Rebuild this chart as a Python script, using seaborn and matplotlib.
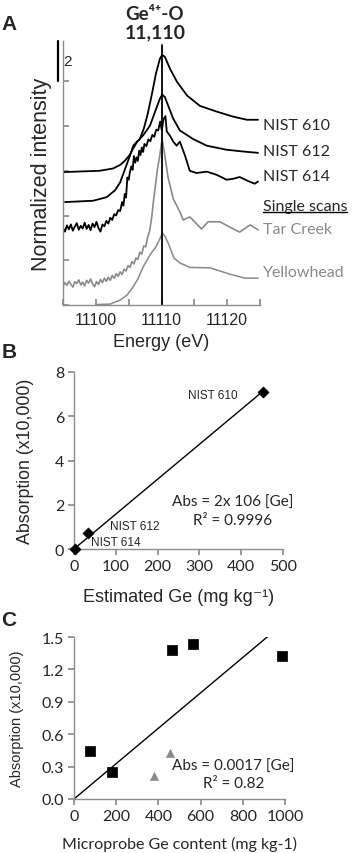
import numpy as np
import pandas as pd
import matplotlib
matplotlib.use('Agg')
import matplotlib.pyplot as plt
import seaborn as sns

# ---------------- A: Ge K-edge spectra (stacked, offset units) ----------------
nist610_e = [11095.0, 11100.6, 11102.6, 11103.7, 11104.4, 11105.2, 11105.65, 11106.3, 11106.7,
             11107.3, 11107.9, 11108.55, 11109.15, 11109.75, 11110.1, 11110.5, 11111.3, 11112.35,
             11113.9, 11115.85, 11118.45, 11120.9, 11123.0, 11124.7]
nist610_i = [2.97, 3.00, 3.05, 3.13, 3.22, 3.36, 3.49, 3.65, 3.71, 3.94, 4.27, 4.72, 5.17, 5.50,
             5.59, 5.55, 5.28, 4.99, 4.68, 4.45, 4.32, 4.21, 4.14, 4.14]

nist612_e = [11095.3, 11099.6, 11101.65, 11102.9, 11103.7, 11104.45, 11105.2, 11105.7, 11106.2,
             11107.2, 11108.25, 11109.0, 11109.75, 11110.1, 11110.5, 11111.0, 11111.8, 11112.8,
             11114.8, 11116.9, 11119.9, 11122.45, 11124.7]
nist612_i = [2.30, 2.33, 2.41, 2.56, 2.74, 3.04, 3.34, 3.56, 3.64, 3.79, 4.01, 4.31, 4.61, 4.70,
             4.65, 4.46, 4.16, 3.90, 3.71, 3.56, 3.47, 3.43, 3.40]

nist614_e = [11095.0, 11095.3, 11095.6, 11095.9, 11096.2, 11096.5, 11096.8, 11097.1, 11097.4,
             11097.7, 11098.0, 11098.3, 11098.6, 11098.9, 11099.2, 11099.5, 11099.8, 11100.1,
             11100.4, 11100.7, 11101.0, 11101.3, 11101.6, 11101.9, 11102.2, 11102.5, 11102.8,
             11103.1, 11103.4, 11103.7, 11104.0, 11104.2, 11104.4, 11104.6, 11104.8, 11105.0,
             11105.2, 11105.4, 11105.6, 11105.8, 11106.0, 11106.2, 11106.4, 11106.6, 11106.8,
             11107.0, 11107.2, 11107.4, 11107.7, 11108.0, 11108.3, 11108.6, 11108.9, 11109.2,
             11109.5, 11109.8, 11110.05, 11110.3, 11110.6, 11110.8, 11111.3, 11111.8, 11112.3,
             11112.8, 11113.6, 11114.3, 11115.3, 11116.9, 11118.4, 11119.9, 11120.9, 11121.9,
             11123.2, 11124.2, 11124.7]
nist614_i = [1.72, 1.64, 1.78, 1.69, 1.80, 1.66, 1.75, 1.83, 1.68, 1.77, 1.71, 1.84, 1.70, 1.79,
             1.67, 1.82, 1.74, 1.86, 1.72, 1.64, 1.80, 1.76, 1.88, 1.82, 1.95, 1.90, 2.03, 2.00,
             2.12, 2.10, 2.30, 2.22, 2.48, 2.40, 2.85, 2.80, 2.98, 3.10, 3.02, 3.33, 3.18, 3.30,
             3.22, 3.45, 3.35, 3.52, 3.42, 3.60, 3.55, 3.70, 3.66, 3.80, 3.76, 3.92, 3.90, 4.10,
             3.90, 4.15, 4.22, 3.88, 3.78, 3.65, 3.56, 3.65, 3.33, 3.00, 2.95, 2.98, 2.91, 2.80,
             2.82, 2.86, 2.77, 2.71, 2.76]

tar_e = [11095.0, 11095.3, 11095.6, 11095.9, 11096.2, 11096.5, 11096.8, 11097.1, 11097.4,
         11097.7, 11098.0, 11098.3, 11098.6, 11098.9, 11099.2, 11099.5, 11099.8, 11100.1,
         11100.4, 11100.7, 11101.0, 11101.3, 11101.6, 11101.9, 11102.2, 11102.5, 11102.8,
         11103.1, 11103.4, 11103.7, 11104.0, 11104.3, 11104.6, 11104.9, 11105.2, 11105.5,
         11105.8, 11106.1, 11106.4, 11106.7, 11107.0, 11107.3, 11107.6, 11107.9, 11108.2,
         11108.5, 11108.8, 11109.1, 11109.4, 11109.7, 11110.0, 11110.15, 11110.5, 11111.0,
         11111.8, 11112.8, 11113.3, 11114.3, 11116.1, 11117.1, 11118.9, 11120.4, 11121.9,
         11123.5, 11124.7]
tar_i = [0.42, 0.50, 0.44, 0.53, 0.46, 0.40, 0.52, 0.48, 0.56, 0.45, 0.51, 0.43, 0.55, 0.49,
         0.58, 0.47, 0.41, 0.52, 0.46, 0.57, 0.50, 0.60, 0.53, 0.62, 0.55, 0.66, 0.60, 0.70,
         0.64, 0.74, 0.68, 0.80, 0.76, 0.88, 0.84, 0.97, 0.92, 1.05, 1.02, 1.18, 1.14, 1.32,
         1.30, 1.52, 1.66, 1.95, 2.35, 2.70, 3.05, 3.30, 3.62, 3.65, 3.35, 2.85, 2.37, 2.08,
         1.90, 1.97, 1.70, 1.86, 1.86, 1.74, 1.63, 1.79, 1.68]

yellow_e = [11100.0, 11102.15, 11103.7, 11104.75, 11105.65, 11106.4, 11107.2, 11108.25, 11109.15,
            11109.75, 11110.15, 11110.5, 11111.0, 11111.9, 11112.8, 11114.35, 11117.4, 11120.4,
            11122.7, 11124.7]
yellow_i = [0.01, 0.02, 0.11, 0.22, 0.40, 0.58, 0.85, 1.12, 1.30, 1.48, 1.61, 1.54, 1.39, 1.05,
            0.94, 0.84, 0.83, 0.69, 0.60, 0.60]

spectra_names = ['NIST 610', 'NIST 612', 'NIST 614', 'Tar Creek', 'Yellowhead']
label_levels = [4.03, 3.45, 2.88, 1.70, 0.745]
peak_energy = 11110

# ---------------- B: calibration with NIST glasses ----------------
b_names = ['NIST 614', 'NIST 612', 'NIST 610']
b_ge = [2, 34, 451]
b_abs = [0.02, 0.71, 7.1]

# ---------------- C: samples vs microprobe ----------------
c_sq_ge = [76, 182, 466, 562, 987]
c_sq_abs = [0.44, 0.25, 1.38, 1.435, 1.32]
c_tri_ge = [378, 453]
c_tri_abs = [0.21, 0.425]
c_yticks = [0.0, 0.3, 0.6, 0.9, 1.2, 1.5]

sns.set_theme(style='white')
plt.rcParams['font.family'] = ['Liberation Sans', 'DejaVu Sans']
plt.rcParams['axes.edgecolor'] = '#8c8c8c'
plt.rcParams['axes.linewidth'] = 1.0

fig = plt.figure(figsize=(3.53, 8.54), dpi=100)
W, H = 353, 854

def px_axes(l, t, r, b):
    return fig.add_axes([l / W, 1 - b / H, (r - l) / W, (b - t) / H])

gray = '#8a8a8a'
calibri = ['Lato', 'DejaVu Sans']

# ---- panel A ----
axA = px_axes(63, 42, 260, 306)
spectra = [(nist610_e, nist610_i, 'black', 1.3), (nist612_e, nist612_i, 'black', 1.3),
           (nist614_e, nist614_i, 'black', 1.3), (tar_e, tar_i, gray, 1.2),
           (yellow_e, yellow_i, gray, 1.1)]
for e, i, c, lw in spectra:
    sns.lineplot(x=e, y=i, color=c, lw=lw, ax=axA, estimator=None, sort=False)
axA.plot([peak_energy, peak_energy], [0, 5.8], color='black', lw=1.3)
axA.set_xlim(11095, 11125)
axA.set_ylim(0, 5.9)
axA.set_xticks(range(11095, 11126, 5))
axA.set_xticklabels(['' if v % 10 else str(v) for v in range(11095, 11126, 5)])
axA.set_yticks(range(0, 6))
axA.set_yticklabels([])
axA.tick_params(direction='in', length=4, color='#8c8c8c', labelsize=11.5, pad=5,
                bottom=True, left=True)
for s in ['top', 'right']:
    axA.spines[s].set_visible(False)
axA.set_xlabel('Energy (eV)', fontsize=13, va='center')
axA.xaxis.set_label_coords(0.5, -0.137)
axA.set_ylabel('Normalized intensity', fontsize=15.5, va='center')
axA.yaxis.set_label_coords(-0.107, 0.5)

# scale bar
axA.plot([11094.3, 11094.3], [5.01, 5.91], color='black', lw=1.6, clip_on=False)
axA.text(11095.1, 5.45, '2', fontsize=11, va='center', ha='left')

for name, lev in zip(spectra_names[:3], label_levels[:3]):
    axA.text(11125.4, lev, name, fontsize=11.5, va='center', ha='left', family=calibri, clip_on=False)
for name, lev in zip(spectra_names[3:], label_levels[3:]):
    axA.text(11125.4, lev, name, fontsize=11.5, va='center', ha='left', family=calibri,
             color=gray, clip_on=False)
ss = axA.text(11125.4, 2.22, 'Single scans', fontsize=11.5, va='center', ha='left',
              family=calibri, clip_on=False)

fig.text(155 / W, 1 - 15 / H, 'Ge\u2074\u207a-O', fontsize=13.5, fontweight='bold',
         ha='center', va='center', family=['Lato', 'DejaVu Sans'])
fig.text(155 / W, 1 - 33 / H, '11,110', fontsize=14, fontweight='bold',
         ha='center', va='center', family=calibri)

# ---- panel B ----
axB = px_axes(74, 373, 283, 550)
dfB = pd.DataFrame({'conc': b_ge, 'absorb': b_abs, 'name': b_names})
slopeB = np.sum(dfB.conc * dfB.absorb) / np.sum(dfB.conc ** 2)
fitB = pd.DataFrame({'conc': [0, dfB.conc.max()]})
fitB['absorb'] = slopeB * fitB.conc
sns.lineplot(data=fitB, x='conc', y='absorb', color='black', lw=1.0, ax=axB)
sns.scatterplot(data=dfB, x='conc', y='absorb', marker='D', s=32, color='black',
                edgecolor='black', ax=axB, zorder=3, clip_on=False)
axB.set_xlim(0, 500)
axB.set_ylim(0, 8)
axB.set_xticks(range(0, 501, 100))
axB.set_yticks(range(0, 9, 2))
axB.tick_params(direction='out', length=4, color='#8c8c8c', labelsize=11.5, pad=3,
                bottom=True, left=True)
for lab in axB.get_xticklabels() + axB.get_yticklabels():
    lab.set_family(calibri)
for s in ['top', 'right']:
    axB.spines[s].set_visible(False)
axB.set_xlabel('Estimated Ge (mg kg\u207b\u00b9)', fontsize=13, va='center')
axB.xaxis.set_label_coords(0.5, -0.266)
axB.set_ylabel('Absorption (x10,000)', fontsize=12.8, va='center')
axB.yaxis.set_label_coords(-0.234, 0.5)
for name, x, y in zip(['NIST 610', 'NIST 612', 'NIST 614'], [332, 146, 99], [6.94, 1.03, 0.30]):
    axB.text(x, y, name, fontsize=8.5, ha='center', va='center')
axB.text(379, 2.14, 'Abs = 2x 106 [Ge]', fontsize=11, ha='center', va='center', family=calibri)
axB.text(379, 1.33, 'R\u00b2 = 0.9996', fontsize=11, ha='center', va='center', family=calibri)

# ---- panel C ----
axC = px_axes(74, 638, 285, 800)
dfC = pd.DataFrame({'conc': c_sq_ge + c_tri_ge, 'absorb': c_sq_abs + c_tri_abs,
                    'kind': ['sq'] * len(c_sq_ge) + ['tri'] * len(c_tri_ge)})
slopeC = np.sum(dfC.conc * dfC.absorb) / np.sum(dfC.conc ** 2)
fitC = pd.DataFrame({'conc': [0, 1000]})
fitC['absorb'] = slopeC * fitC.conc
sns.lineplot(data=fitC, x='conc', y='absorb', color='black', lw=1.0, ax=axC)
sns.scatterplot(data=dfC[dfC.kind == 'sq'], x='conc', y='absorb', marker='s', s=42, color='black',
                edgecolor='black', ax=axC, zorder=3, clip_on=False)
sns.scatterplot(data=dfC[dfC.kind == 'tri'], x='conc', y='absorb', marker='^', s=34, color=gray,
                edgecolor=gray, ax=axC, zorder=3)
axC.set_xlim(0, 1000)
axC.set_ylim(0, 1.5)
axC.set_xticks(range(0, 1001, 200))
axC.set_yticks(c_yticks)
axC.set_yticklabels([f'{v:.1f}' for v in c_yticks])
axC.tick_params(direction='out', length=4, color='#8c8c8c', labelsize=11.5, pad=3,
                bottom=True, left=True)
for lab in axC.get_xticklabels() + axC.get_yticklabels():
    lab.set_family(calibri)
for s in ['top', 'right']:
    axC.spines[s].set_visible(False)
axC.set_xlabel('Microprobe Ge content (mg kg-1)', fontsize=11.5, va='center', family=calibri)
axC.xaxis.set_label_coords(0.5, -0.272)
axC.set_ylabel('Absorption (x10,000)', fontsize=10.5, va='center')
axC.yaxis.set_label_coords(-0.268, 0.5)
axC.text(756, 0.31, 'Abs = 0.0017 [Ge]', fontsize=11, ha='center', va='center', family=calibri)
axC.text(758, 0.15, 'R\u00b2 = 0.82', fontsize=11, ha='center', va='center', family=calibri)

# panel letters
for letter, yp in zip(['A', 'B', 'C'], [25, 353, 620]):
    fig.text(9 / W, 1 - yp / H, letter, fontsize=15, fontweight='bold', ha='center', va='center')

# underline "Single scans"
fig.canvas.draw()
bb = ss.get_window_extent()
fig.add_artist(plt.Line2D([bb.x0 / fig.bbox.width, bb.x1 / fig.bbox.width],
                          [(bb.y0 + 1) / fig.bbox.height] * 2, color='black', lw=1.0))

fig.savefig('out.png', dpi=100)
